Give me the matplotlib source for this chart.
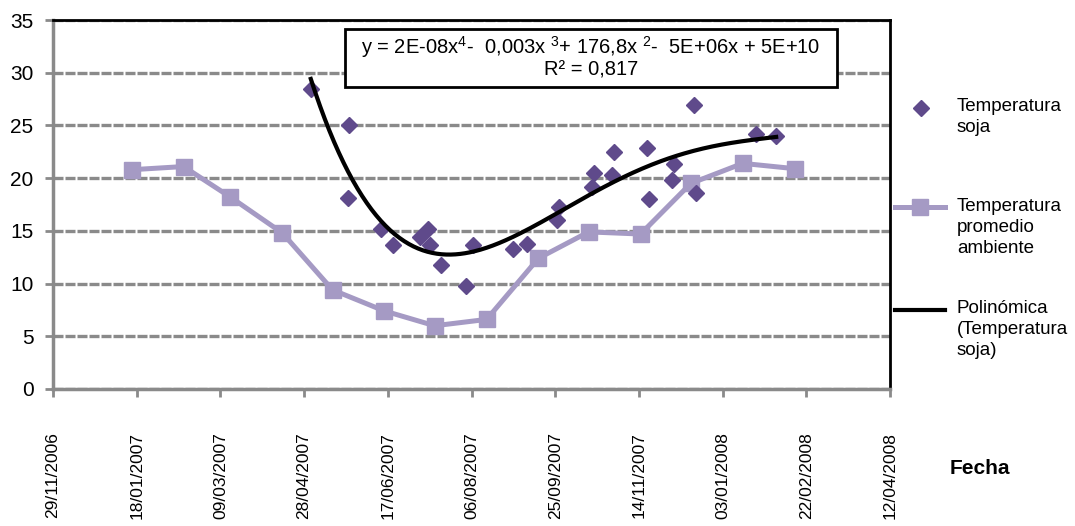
import numpy as np
import pandas as pd
import matplotlib
matplotlib.use("Agg")
import matplotlib.pyplot as plt
import matplotlib.dates as mdates
from matplotlib.lines import Line2D
from matplotlib.patches import Rectangle

# temperatura promedio ambiente (mensual)
amb_dates = ["15/01/2007", "15/02/2007", "15/03/2007", "15/04/2007", "15/05/2007",
             "15/06/2007", "15/07/2007", "15/08/2007", "15/09/2007", "15/10/2007",
             "15/11/2007", "15/12/2007", "15/01/2008", "15/02/2008"]
amb_temp = [20.8, 21.1, 18.2, 14.8, 9.4, 7.4, 6.0, 6.6, 12.4, 14.9, 14.7, 19.5, 21.4, 20.9]

# temperatura medida en soja
soja_dates = ["02/05/2007", "25/05/2007", "24/05/2007", "13/06/2007", "20/06/2007",
              "06/07/2007", "11/07/2007", "12/07/2007", "19/07/2007", "03/08/2007",
              "07/08/2007", "31/08/2007", "08/09/2007", "26/09/2007", "27/09/2007",
              "17/10/2007", "18/10/2007", "29/10/2007", "30/10/2007", "19/11/2007",
              "20/11/2007", "04/12/2007", "05/12/2007", "17/12/2007", "18/12/2007",
              "23/01/2008", "04/02/2008"]
soja_temp = [28.5, 25.0, 18.1, 15.2, 13.7, 14.4, 15.2, 13.7, 11.8, 9.8,
             13.7, 13.3, 13.8, 16.0, 17.3, 19.2, 20.5, 20.3, 22.5, 22.9,
             18.0, 19.8, 21.3, 26.9, 18.6, 24.2, 24.0]

x_start, x_end = "29/11/2006", "12/04/2008"
eq_line1 = "y = 2E-08x$^{4}$-  0,003x $^{3}$+ 176,8x $^{2}$-  5E+06x + 5E+10"
eq_line2 = "R² = 0,817"

plt.rcParams['font.family'] = ['Liberation Sans', 'DejaVu Sans']
plt.rcParams['mathtext.fontset'] = 'custom'
plt.rcParams['mathtext.rm'] = 'Liberation Sans'
plt.rcParams['mathtext.it'] = 'Liberation Sans'

DARK = '#5f4a8b'
LIGHT = '#a59ac4'
GRID = '#8a8a8a'

amb_x = pd.to_datetime(amb_dates, format="%d/%m/%Y")
soja_x = pd.to_datetime(soja_dates, format="%d/%m/%Y")
x0 = pd.to_datetime(x_start, format="%d/%m/%Y")
x1 = pd.to_datetime(x_end, format="%d/%m/%Y")

W, H = 1075, 526
fig = plt.figure(figsize=(W / 100, H / 100), dpi=100)
ax = fig.add_axes([53 / W, 1 - 389 / H, (890 - 53) / W, (389 - 20) / H])

def fy(py):
    return 1 - py / H

ax.plot(amb_x, amb_temp, color=LIGHT, lw=3.6, marker='s', ms=12, zorder=3)
ax.plot(soja_x, soja_temp, ls='none', marker='D', ms=8, color=DARK, zorder=4)

# ajuste polinómico de orden 4
days = (soja_x - soja_x[0]).days.values.astype(float)
coef = np.polyfit(days, soja_temp, 4)
d_fit = np.linspace(days.min(), days.max(), 300)
fit_x = soja_x[0] + pd.to_timedelta(d_fit, unit='D')
ax.plot(fit_x, np.polyval(coef, d_fit), color='black', lw=3, zorder=5)

ax.set_ylim(0, 35)
ax.set_yticks(range(0, 36, 5))
ax.set_xlim(x0, x1)
ax.set_xticks(pd.date_range(x0, x1, freq='50D'))
ax.xaxis.set_major_formatter(mdates.DateFormatter('%d/%m/%Y'))
for lbl in ax.get_xticklabels():
    lbl.set_rotation(90)
    lbl.set_fontsize(12.5)
ax.tick_params(axis='y', labelsize=15, length=6, width=2, color=GRID, pad=8)
ax.tick_params(axis='x', length=6, width=2, color=GRID, pad=25)

ax.grid(axis='y', color=GRID, lw=2.4, ls=(0, (3, 0.6)))
ax.set_axisbelow(True)
for side in ('left', 'bottom'):
    ax.spines[side].set_color(GRID)
    ax.spines[side].set_linewidth(2.5)
for side in ('top', 'right'):
    ax.spines[side].set_color('black')
    ax.spines[side].set_linewidth(2)

# recuadro con la ecuación de la línea de tendencia
fig.add_artist(Rectangle((345 / W, fy(87)), 492 / W, 58 / H, transform=fig.transFigure,
                         fc='white', ec='black', lw=2, zorder=6))
fig.text(591 / W, fy(47), eq_line1, ha='center', va='center', fontsize=14.5, zorder=7)
fig.text(591 / W, fy(70), eq_line2, ha='center', va='center', fontsize=14.5, zorder=7)

fig.text(980 / W, fy(468), 'Fecha', ha='center', va='center',
         fontsize=15, fontweight='bold')

# leyenda
fig.add_artist(Line2D([921 / W], [fy(108)], marker='D', ms=8, color=DARK, ls='none'))
fig.add_artist(Line2D([895 / W, 945 / W], [fy(207), fy(207)], color=LIGHT, lw=3.6))
fig.add_artist(Line2D([920 / W], [fy(207)], marker='s', ms=12, color=LIGHT, ls='none'))
fig.add_artist(Line2D([895 / W, 945 / W], [fy(310), fy(310)], color='black', lw=3))

legend_items = [(108, 'Temperatura\nsoja'),
                (208, 'Temperatura\npromedio\nambiente'),
                (310, 'Polinómica\n(Temperatura\nsoja)')]
for py, label in legend_items:
    fig.text(957 / W, fy(py - 10), label, ha='left', va='top', fontsize=13.5,
             linespacing=1.3)

fig.savefig('out.png', dpi=100)
